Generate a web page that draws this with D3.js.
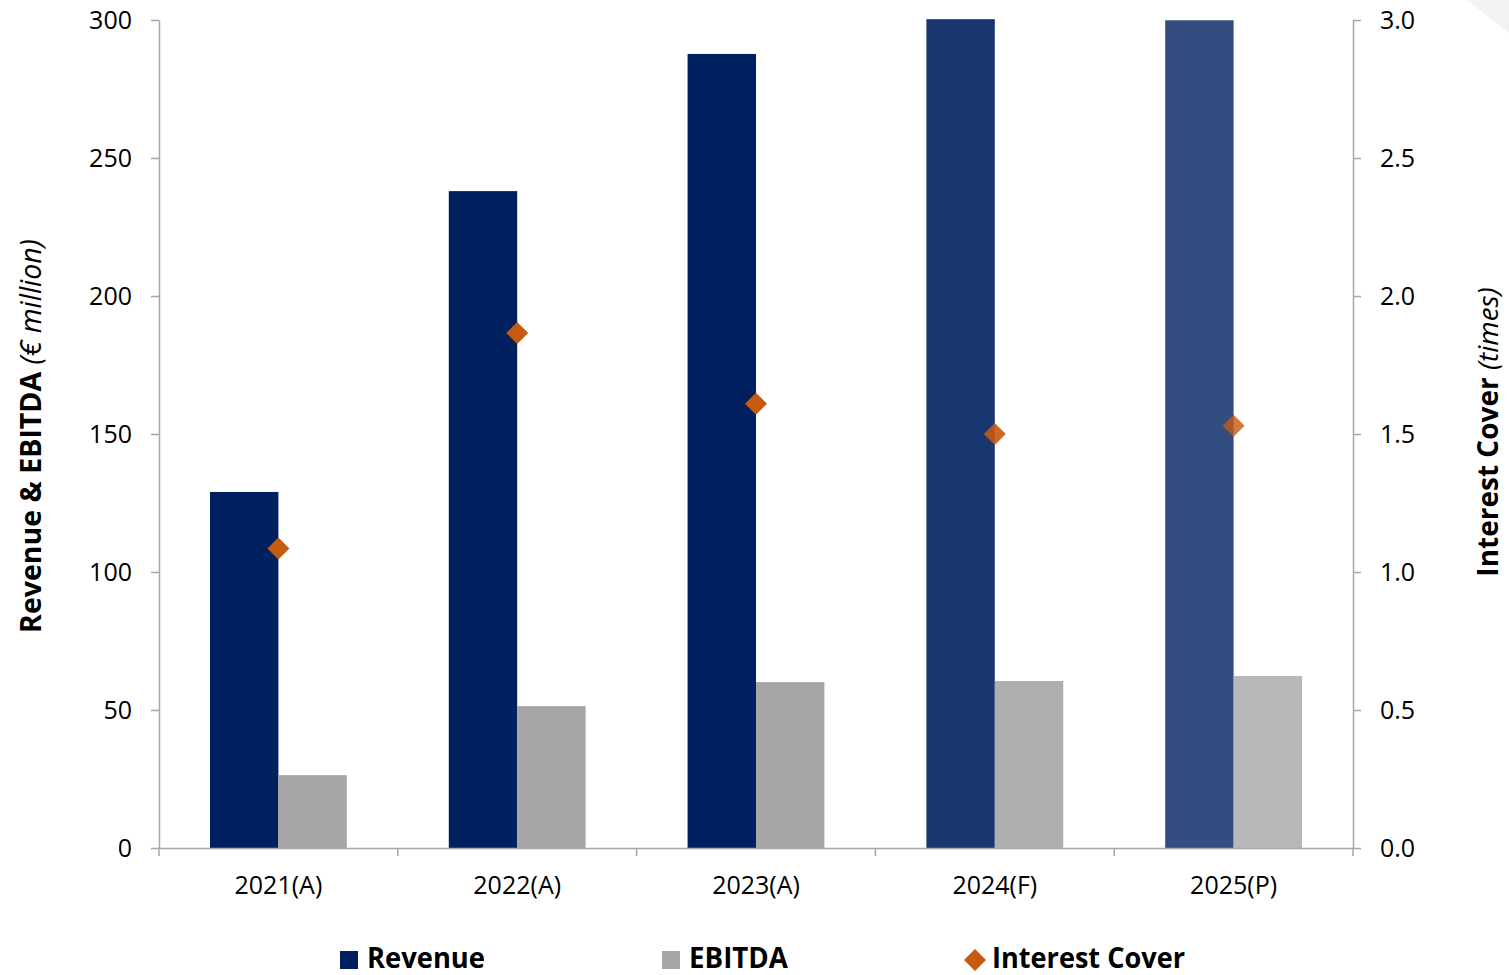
<!DOCTYPE html>
<html>
<head>
<meta charset="utf-8">
<script src="https://cdn.jsdelivr.net/npm/d3@7"></script>
<style>
  html, body { margin: 0; padding: 0; background: #ffffff; overflow: hidden; }
  svg { display: block; }
  text { font-family: "Open Sans", "Noto Sans", sans-serif; fill: #000; }
</style>
</head>
<body>
<svg id="chart" width="1509" height="975"></svg>
<script>
// ---- Data ----
const categories = ["2021(A)", "2022(A)", "2023(A)", "2024(F)", "2025(P)"];
const revenue = [129, 238, 287.7, 300.3, 299.9];
const ebitda = [26.4, 51.4, 60.1, 60.5, 62.3];
const interestCover = [1.085, 1.866, 1.61, 1.50, 1.53];
const leftTicks = [0, 50, 100, 150, 200, 250, 300];
const rightTicks = [0.0, 0.5, 1.0, 1.5, 2.0, 2.5, 3.0];
const seriesNames = ["Revenue", "EBITDA", "Interest Cover"];

// ---- Styles ----
const colRevenue = "#002060";
const colEbitda = "#a6a6a6";
const colCover = "#c55a11";
const axisCol = "#a6a6a6";
const fade = [1, 1, 1, 0.9, 0.8];

const svg = d3.select("#chart");

// corner decoration
svg.append("path").attr("d", "M1467,0 L1509,0 L1509,33 Z").attr("fill", "#f2f2f2");

const plot = { left: 159, right: 1353, top: 20, bottom: 848 };

const x = d3.scaleBand().domain(categories).range([plot.left, plot.right]).padding(0);
const x1 = d3.scaleBand().domain(["rev", "ebitda"])
  .range([x.bandwidth() * 0.2135, x.bandwidth() * 0.7865]).padding(0);
const yL = d3.scaleLinear().domain([0, 300]).range([plot.bottom, plot.top]);
const yR = d3.scaleLinear().domain([0, 3]).range([plot.bottom, plot.top]);

// bars
const g = svg.append("g");
categories.forEach((c, i) => {
  g.append("rect")
    .attr("x", x(c) + x1("rev"))
    .attr("y", yL(revenue[i]))
    .attr("width", x1.bandwidth())
    .attr("height", yL(0) - yL(revenue[i]))
    .attr("fill", colRevenue)
    .attr("fill-opacity", fade[i]);
  g.append("rect")
    .attr("x", x(c) + x1("ebitda"))
    .attr("y", yL(ebitda[i]))
    .attr("width", x1.bandwidth())
    .attr("height", yL(0) - yL(ebitda[i]))
    .attr("fill", colEbitda)
    .attr("fill-opacity", fade[i]);
});

// axes
function styleAxis(sel) {
  sel.select(".domain").attr("stroke", axisCol).attr("stroke-width", 1.5);
  sel.selectAll(".tick line").attr("stroke", axisCol).attr("stroke-width", 1.5);
  sel.selectAll(".tick text").attr("font-size", "25px").attr("fill", "#000")
    .style("font-family", "'Open Sans', sans-serif");
}

const axL = svg.append("g").attr("transform", `translate(${plot.left},0)`)
  .call(d3.axisLeft(yL).tickValues(leftTicks).tickSize(8).tickSizeOuter(0).tickPadding(19).tickFormat(d3.format("d")));
styleAxis(axL);

const axR = svg.append("g").attr("transform", `translate(${plot.right},0)`)
  .call(d3.axisRight(yR).tickValues(rightTicks).tickSize(8).tickSizeOuter(0).tickPadding(19).tickFormat(d3.format(".1f")));
styleAxis(axR);

const axX = svg.append("g").attr("transform", `translate(0,${plot.bottom})`)
  .call(d3.axisBottom(x).tickValues([]).tickSizeOuter(0));
axX.select(".domain").attr("stroke", axisCol).attr("stroke-width", 1.5);
// category boundary ticks
const bounds = categories.map(c => x(c)).concat([x(categories[categories.length - 1]) + x.bandwidth()]);
axX.selectAll("line.bt").data(bounds).enter().append("line")
  .attr("x1", d => d).attr("x2", d => d).attr("y1", 0).attr("y2", 8)
  .attr("stroke", axisCol).attr("stroke-width", 1.5);
axX.selectAll("text.cl").data(categories).enter().append("text")
  .attr("x", d => x(d) + x.bandwidth() / 2).attr("y", 46)
  .attr("text-anchor", "middle").attr("font-size", "25px").text(d => d);

// diamonds
const dsz = 11;
categories.forEach((c, i) => {
  const cx = x(c) + x.bandwidth() / 2, cy = yR(interestCover[i]);
  svg.append("path")
    .attr("d", `M${cx},${cy - dsz} L${cx + dsz},${cy} L${cx},${cy + dsz} L${cx - dsz},${cy} Z`)
    .attr("fill", colCover).attr("fill-opacity", fade[i]);
});

// axis titles
const tl = svg.append("text")
  .attr("transform", `translate(41,436) rotate(-90)`)
  .attr("text-anchor", "middle").attr("font-size", "28.5px");
tl.append("tspan").attr("font-weight", "bold").text("Revenue & EBITDA ");
tl.append("tspan").attr("font-style", "italic").text("(€ million)");

const tr = svg.append("text")
  .attr("transform", `translate(1498,432) rotate(-90)`)
  .attr("text-anchor", "middle").attr("font-size", "28px");
tr.append("tspan").attr("font-weight", "bold").text("Interest Cover ");
tr.append("tspan").attr("font-style", "italic").text("(times)");

// legend
const legY = 960;
const legendItems = [
  { name: seriesNames[0], mx: 349, tx: 367, w: 118, shape: "sq", col: colRevenue },
  { name: seriesNames[1], mx: 671, tx: 689, w: 99, shape: "sq", col: colEbitda },
  { name: seriesNames[2], mx: 975, tx: 992, w: 193, shape: "di", col: colCover }
];
legendItems.forEach(it => {
  if (it.shape === "sq") {
    svg.append("rect").attr("x", it.mx - 9).attr("y", legY - 9).attr("width", 18).attr("height", 18).attr("fill", it.col);
  } else {
    svg.append("path").attr("d", `M${it.mx},${legY - 11} L${it.mx + 11},${legY} L${it.mx},${legY + 11} L${it.mx - 11},${legY} Z`).attr("fill", it.col);
  }
  svg.append("text").attr("x", it.tx).attr("y", legY + 8)
    .attr("font-size", "29px").attr("font-weight", "bold")
    .attr("textLength", it.w).attr("lengthAdjust", "spacingAndGlyphs")
    .text(it.name);
});
</script>
</body>
</html>
